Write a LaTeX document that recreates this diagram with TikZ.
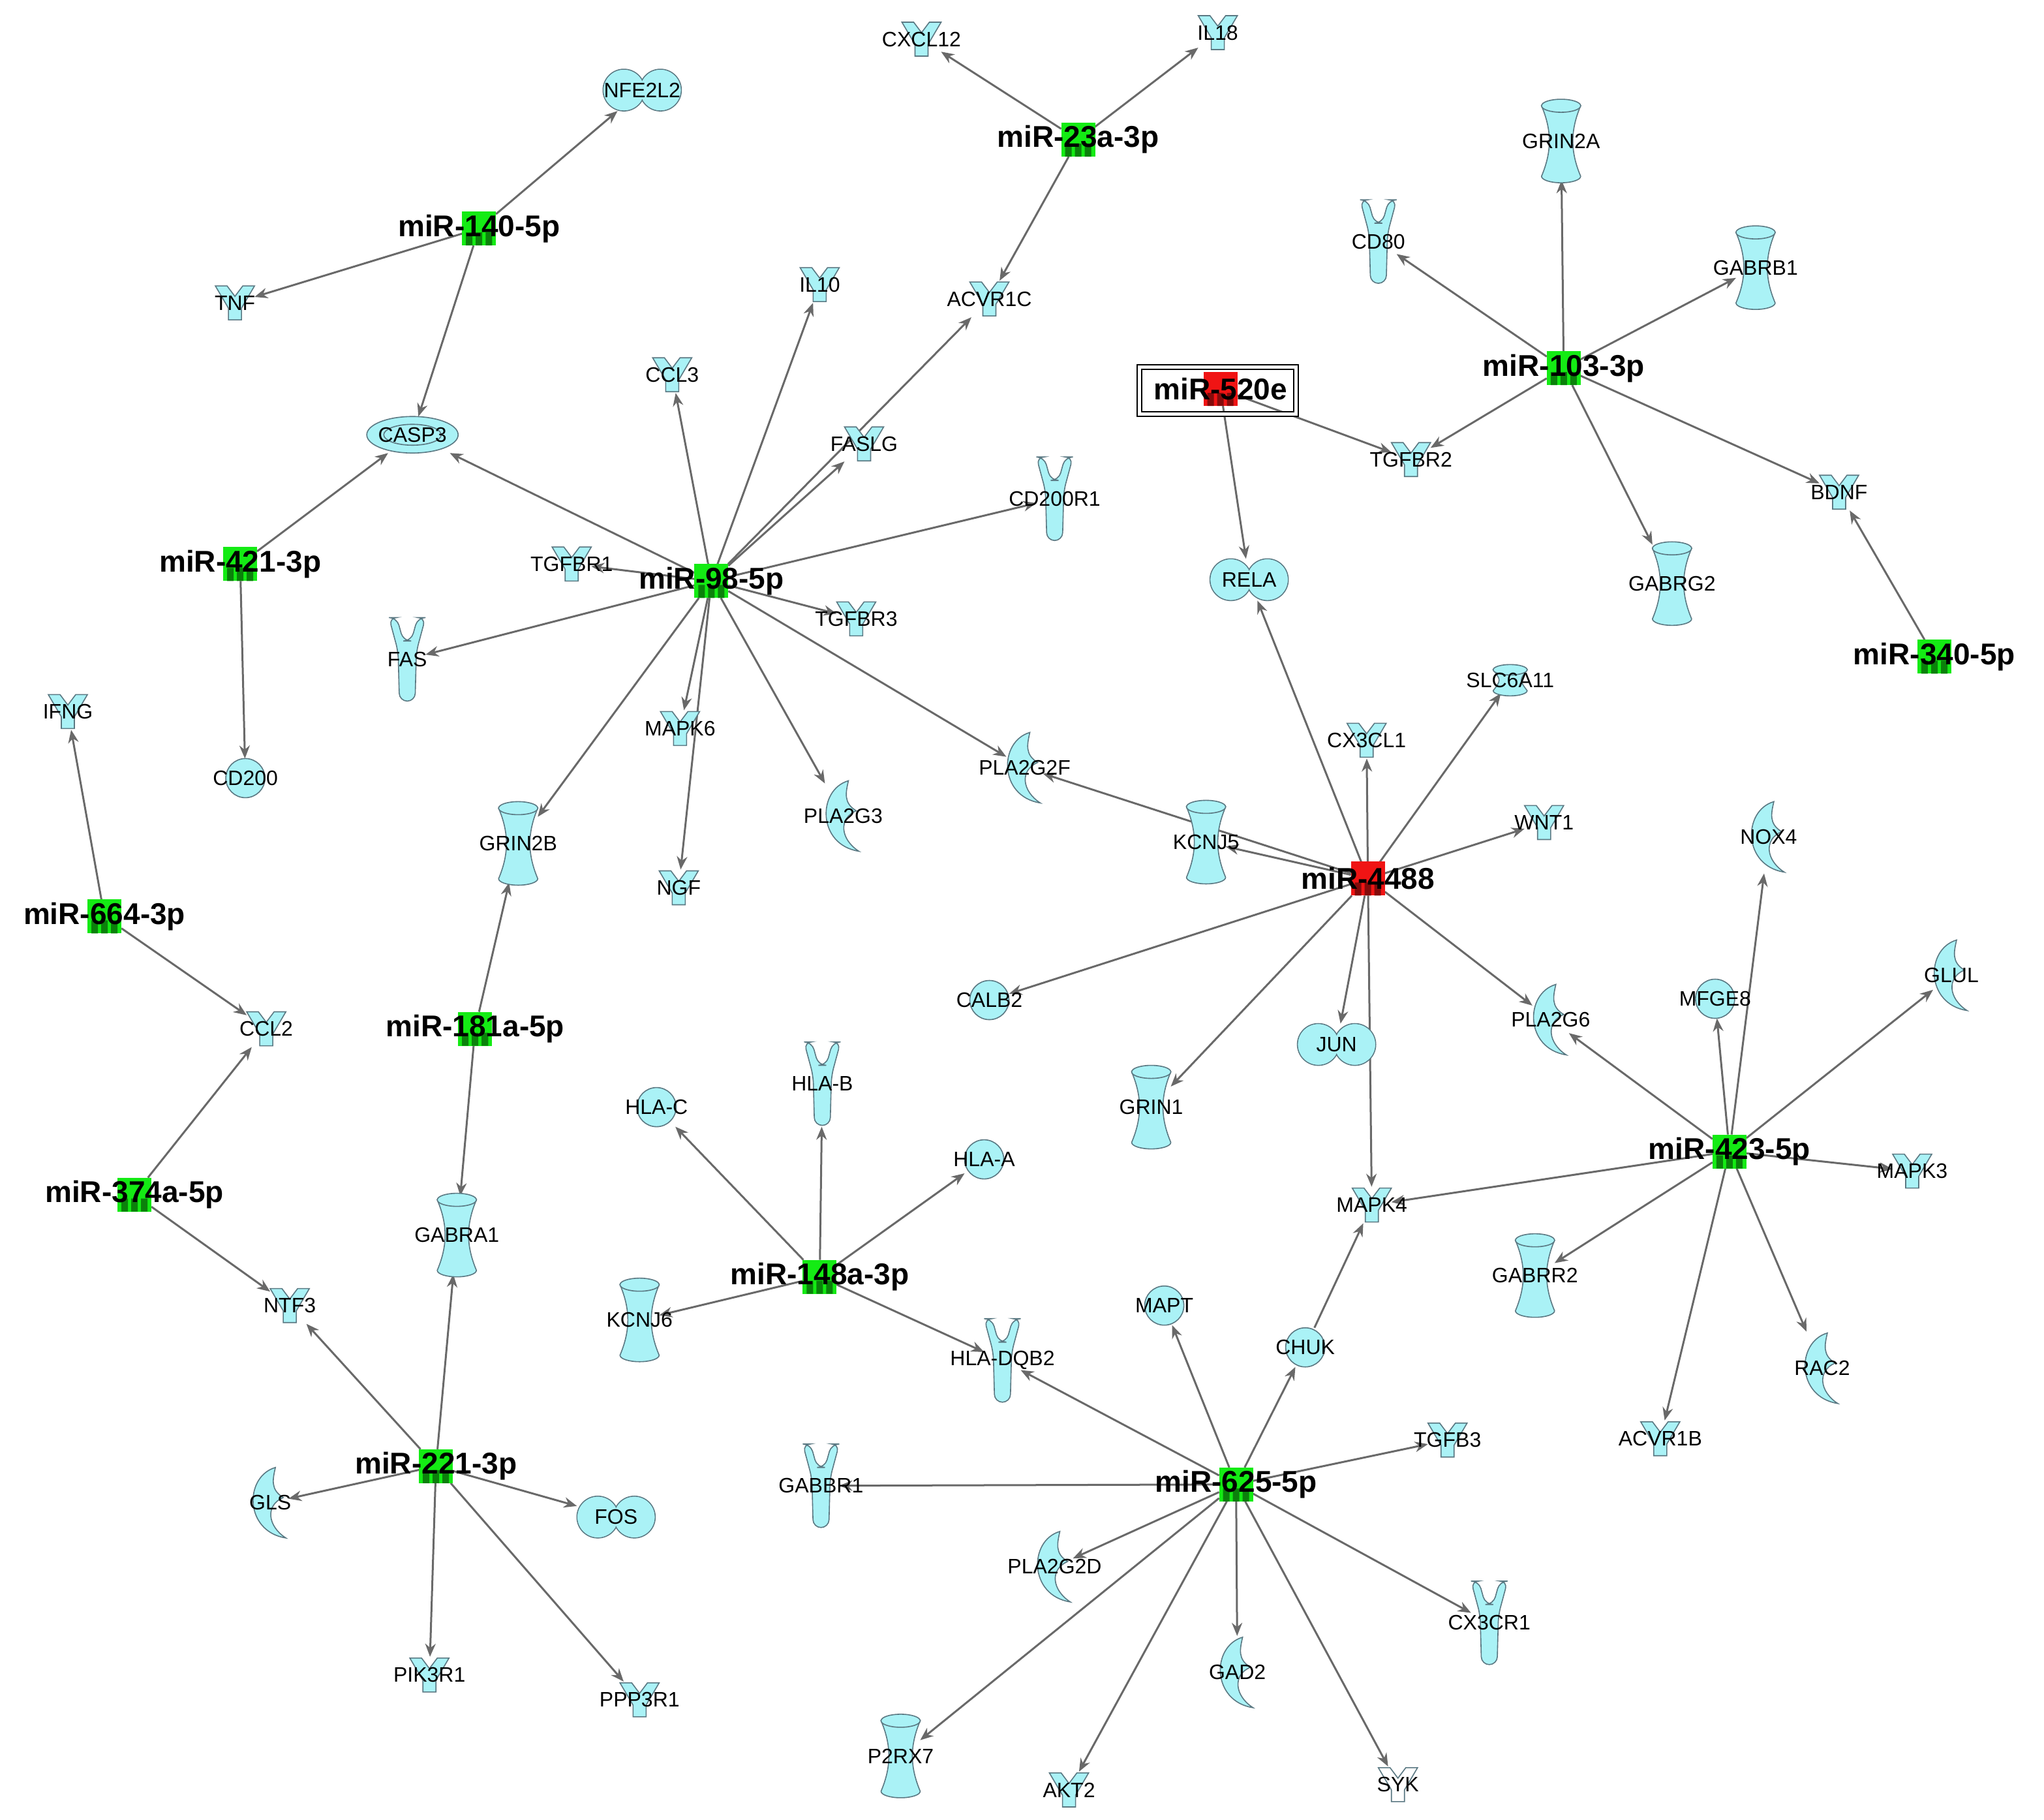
\documentclass[tikz,border=0pt]{standalone}
\usepackage{fontspec}
\setmainfont{Liberation Sans}
\usetikzlibrary{arrows.meta}
\definecolor{gcyan}{RGB}{170,242,246}
\definecolor{gline}{RGB}{90,120,130}
\definecolor{mgreen}{RGB}{20,235,20}
\definecolor{mred}{RGB}{240,20,20}
\definecolor{egray}{RGB}{105,105,105}
\pgfdeclarelayer{background}\pgfsetlayers{background,main}
\tikzset{
 x=0.5pt,y=-0.5pt,
 gshape/.style={fill=gcyan,draw=gline,line width=0.4pt},
 kin/.pic={\path[gshape] (-15,-13) -- (-6,-13) -- (0,-5) -- (6,-13) -- (15,-13) -- (5,4) -- (5,13) -- (-5,13) -- (-5,4) -- cycle;},
 kinw/.pic={\path[gshape,fill=white] (-15,-13) -- (-6,-13) -- (0,-5) -- (6,-13) -- (15,-13) -- (5,4) -- (5,13) -- (-5,13) -- (-5,4) -- cycle;},
 recep/.pic={\path[gshape,rounded corners=3pt] (-14,-32) -- (-8,-32) -- (-3,-14) -- (3,-14) -- (8,-32) -- (14,-32) -- (7,-6) -- (6,32) -- (-6,32) -- (-7,-6) -- cycle;},
 cyl/.pic={\path[gshape] (-15,-27) .. controls (-7,-8) and (-7,8) .. (-15,27) arc[start angle=180,end angle=0,x radius=15,y radius=5] .. controls (7,8) and (7,-8) .. (15,-27) -- cycle; \path[gshape] (0,-27) ellipse[x radius=15,y radius=5];},
 cyls/.pic={\path[gshape] (-13,-8) .. controls (-7,0) and (-7,0) .. (-13,8) arc[start angle=180,end angle=0,x radius=13,y radius=4] .. controls (7,0) and (7,0) .. (13,-8) -- cycle; \path[gshape] (0,-8) ellipse[x radius=13,y radius=4];},
 circ/.pic={\path[gshape] (0,0) circle[radius=15];},
 pean/.pic={\path[gshape] (-14,0) circle[radius=16] (14,0) circle[radius=16]; \fill[gcyan] (-14,0) circle[radius=15.5] (14,0) circle[radius=15.5];},
 ell/.pic={\path[gshape] (0,0) ellipse[x radius=35,y radius=14]; \path[draw=gline,line width=0.4pt] (0,0) ellipse[x radius=22,y radius=8];},
 enz/.pic={\path[gshape] (4,-27) .. controls (-20,-20) and (-20,22) .. (12,27) .. controls (-2,18) and (-4,2) .. (10,-4) .. controls (0,-10) and (2,-18) .. (4,-27) -- cycle;},
 kinbox/.style={minimum width=15pt,minimum height=14pt},
 kinwbox/.style={kinbox},
 recepbox/.style={minimum width=14pt,minimum height=33pt},
 cylbox/.style={minimum width=15pt,minimum height=30pt},
 cylsbox/.style={minimum width=13pt,minimum height=10pt},
 circbox/.style={minimum width=15pt,minimum height=15pt},
 peanbox/.style={minimum width=30pt,minimum height=16pt},
 ellbox/.style={minimum width=35pt,minimum height=14pt},
 enzbox/.style={minimum width=14pt,minimum height=28pt},
 gbase/.style={inner sep=0pt,outer sep=0pt},
 glab/.style={font=\fontsize{8}{9}\selectfont,inner sep=0pt},
 mirsq/.style={minimum width=13pt,minimum height=13pt,inner sep=0pt,outer sep=0pt},
 mirlab/.style={font=\fontsize{11.5}{13}\selectfont\bfseries,inner sep=0pt},
 edge/.style={draw=egray,line width=0.75pt,-{Stealth[length=5pt,width=4pt]}},
}
\newcommand\gn[4]{\pic at (#2) {#3}; \node[gbase,#3box] (#1) at (#2) {}; \node[glab] (#1l) at (#2) {#4};}
\newcommand\mir[4]{\node[mirsq,fill=#4] (#1) at (#2) {};
 \fill[#4!55!black] (#2) ++(-10,3) rectangle ++(5,10) (#2) ++(-2.5,3) rectangle ++(5,10) (#2) ++(5,3) rectangle ++(5,10);
 \node[mirlab] (#1l) at (#2) {#3};}
\begin{document}
\begin{tikzpicture}
\useasboundingbox (0,0) rectangle (1566,1394);
% genes
\gn{NFE2L2}{492,69}{pean}{NFE2L2}
\gn{TNF}{180,232}{kin}{TNF}
\gn{CASP3}{316,333}{ell}{CASP3}
\gn{CD200}{188,596}{circ}{CD200}
\gn{IFNG}{52,545}{kin}{IFNG}
\gn{CXCL12}{706,30}{kin}{CXCL12}
\gn{IL18}{933,25}{kin}{IL18}
\gn{ACVR1C}{758,229}{kin}{ACVR1C}
\gn{IL10}{628,218}{kin}{IL10}
\gn{CCL3}{515,287}{kin}{CCL3}
\gn{FASLG}{662,340}{kin}{FASLG}
\gn{TGFBR1}{438,432}{kin}{TGFBR1}
\gn{CD200R1}{808,382}{recep}{CD200R1}
\gn{TGFBR3}{656,474}{kin}{TGFBR3}
\gn{FAS}{312,505}{recep}{FAS}
\gn{MAPK6}{521,558}{kin}{MAPK6}
\gn{PLA2G3}{646,625}{enz}{PLA2G3}
\gn{NGF}{520,680}{kin}{NGF}
\gn{GRIN2B}{397,646}{cyl}{GRIN2B}
\gn{PLA2G2F}{785,588}{enz}{PLA2G2F}
\gn{GRIN2A}{1196,108}{cyl}{GRIN2A}
\gn{CD80}{1056,185}{recep}{CD80}
\gn{GABRB1}{1345,205}{cyl}{GABRB1}
\gn{TGFBR2}{1081,352}{kin}{TGFBR2}
\gn{BDNF}{1409,377}{kin}{BDNF}
\gn{GABRG2}{1281,447}{cyl}{GABRG2}
\gn{RELA}{957,444}{pean}{RELA}
\gn{SLC6A11}{1157,521}{cyls}{SLC6A11}
\gn{CX3CL1}{1047,567}{kin}{CX3CL1}
\gn{WNT1}{1183,630}{kin}{WNT1}
\gn{KCNJ5}{924,645}{cyl}{KCNJ5}
\gn{NOX4}{1355,641}{enz}{NOX4}
\gn{CALB2}{758,766}{circ}{CALB2}
\gn{GRIN1}{882,848}{cyl}{GRIN1}
\gn{JUN}{1024,800}{pean}{JUN}
\gn{PLA2G6}{1188,781}{enz}{PLA2G6}
\gn{MFGE8}{1314,765}{circ}{MFGE8}
\gn{GLUL}{1495,747}{enz}{GLUL}
\gn{MAPK4}{1051,923}{kin}{MAPK4}
\gn{MAPK3}{1465,897}{kin}{MAPK3}
\gn{GABRR2}{1176,977}{cyl}{GABRR2}
\gn{RAC2}{1396,1048}{enz}{RAC2}
\gn{ACVR1B}{1272,1102}{kin}{ACVR1B}
\gn{CCL2}{204,788}{kin}{CCL2}
\gn{NTF3}{222,1000}{kin}{NTF3}
\gn{GABRA1}{350,946}{cyl}{GABRA1}
\gn{HLAC}{503,848}{circ}{HLA-C}
\gn{HLAB}{630,830}{recep}{HLA-B}
\gn{HLAA}{754,888}{circ}{HLA-A}
\gn{KCNJ6}{490,1011}{cyl}{KCNJ6}
\gn{HLADQB2}{768,1042}{recep}{HLA-DQB2}
\gn{MAPT}{892,1000}{circ}{MAPT}
\gn{CHUK}{1000,1032}{circ}{CHUK}
\gn{TGFB3}{1109,1103}{kin}{TGFB3}
\gn{GABBR1}{629,1138}{recep}{GABBR1}
\gn{PLA2G2D}{808,1200}{enz}{PLA2G2D}
\gn{CX3CR1}{1141,1243}{recep}{CX3CR1}
\gn{GAD2}{948,1281}{enz}{GAD2}
\gn{P2RX7}{690,1345}{cyl}{P2RX7}
\gn{AKT2}{819,1371}{kin}{AKT2}
\gn{SYK}{1071,1367}{kinw}{SYK}
\gn{GLS}{207,1151}{enz}{GLS}
\gn{FOS}{472,1162}{pean}{FOS}
\gn{PIK3R1}{329,1283}{kin}{PIK3R1}
\gn{PPP3R1}{490,1302}{kin}{PPP3R1}
% miRNAs
\mir{m140}{367,175}{miR-140-5p}{mgreen}
\mir{m23a}{826,107}{miR-23a-3p}{mgreen}
\mir{m103}{1198,282}{miR-103-3p}{mgreen}
\mir{m520}{935,298}{miR-520e}{mred}
\node[draw=black,double,double distance=1.2pt,line width=0.5pt,minimum width=60pt,minimum height=18pt,inner sep=0pt] (m520box) at (933,299) {};
\mir{m421}{184,432}{miR-421-3p}{mgreen}
\mir{m98}{545,445}{miR-98-5p}{mgreen}
\mir{m340}{1482,503}{miR-340-5p}{mgreen}
\mir{m664}{80,702}{miR-664-3p}{mgreen}
\mir{m4488}{1048,673}{miR-4488}{mred}
\mir{m181}{364,788}{miR-181a-5p}{mgreen}
\mir{m374}{103,915}{miR-374a-5p}{mgreen}
\mir{m148}{628,978}{miR-148a-3p}{mgreen}
\mir{m423}{1325,882}{miR-423-5p}{mgreen}
\mir{m221}{334,1123}{miR-221-3p}{mgreen}
\mir{m625}{947,1137}{miR-625-5p}{mgreen}
\begin{pgfonlayer}{background}
\foreach \t in {NFE2L2,TNF,CASP3} \draw[edge] (m140) -- (\t);
\foreach \t in {CXCL12,IL18,ACVR1C} \draw[edge] (m23a) -- (\t);
\foreach \t in {CASP3,CD200} \draw[edge] (m421) -- (\t);
\foreach \t in {CASP3,CCL3,IL10,ACVR1C,FASLG,CD200R1,TGFBR1,TGFBR3,FAS,MAPK6,NGF,PLA2G3,PLA2G2F,GRIN2B} \draw[edge] (m98) -- (\t);
\foreach \t in {GRIN2A,CD80,GABRB1,TGFBR2,BDNF,GABRG2} \draw[edge] (m103) -- (\t);
\foreach \t in {TGFBR2,RELA} \draw[edge] (m520) -- (\t);
\draw[edge] (m340) -- (BDNF);
\foreach \t in {IFNG,CCL2} \draw[edge] (m664) -- (\t);
\foreach \t in {CCL2,NTF3} \draw[edge] (m374) -- (\t);
\foreach \t in {RELA,CX3CL1,SLC6A11,WNT1,KCNJ5,PLA2G2F,CALB2,GRIN1,JUN,MAPK4,PLA2G6} \draw[edge] (m4488) -- (\t);
\foreach \t in {GRIN2B,GABRA1} \draw[edge] (m181) -- (\t);
\foreach \t in {HLAC,HLAB,HLAA,KCNJ6,HLADQB2} \draw[edge] (m148) -- (\t);
\foreach \t in {PLA2G6,MFGE8,NOX4,GLUL,MAPK3,MAPK4,GABRR2,RAC2,ACVR1B} \draw[edge] (m423) -- (\t);
\foreach \t in {NTF3,GABRA1,GLS,FOS,PIK3R1,PPP3R1} \draw[edge] (m221) -- (\t);
\foreach \t in {HLADQB2,MAPT,CHUK,TGFB3,GABBR1,PLA2G2D,CX3CR1,GAD2,P2RX7,AKT2,SYK} \draw[edge] (m625) -- (\t);
\draw[edge] (CHUK) -- (MAPK4);
\end{pgfonlayer}
\end{tikzpicture}
\end{document}
